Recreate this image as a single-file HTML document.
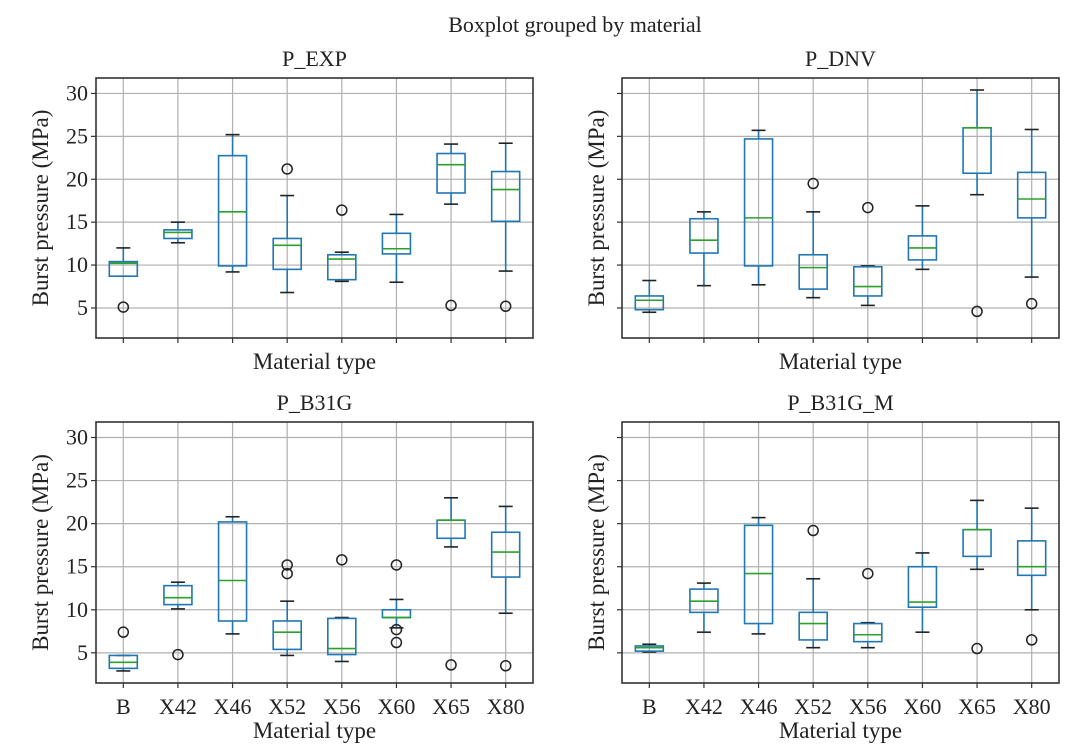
<!DOCTYPE html>
<html><head><meta charset="utf-8">
<style>
html,body{margin:0;padding:0;background:#fff;}
svg{display:block;font-family:"Liberation Serif",serif;}
</style></head>
<body>
<svg id="chart" width="1077" height="750" viewBox="0 0 1077 750" xmlns="http://www.w3.org/2000/svg">
<text x="575" y="32" font-size="22" text-anchor="middle" fill="#222">Boxplot grouped by material</text>
</svg>
<script>
const categories = ["B","X42","X46","X52","X56","X60","X65","X80"];
const panelTitles = ["P_EXP","P_DNV","P_B31G","P_B31G_M"];
const yTicks = [5,10,15,20,25,30];
// each entry: [whiskerLo, q1, median, q3, whiskerHi]
const statsEXP = [[8.7,8.7,10.2,10.4,12.0],[12.6,13.1,13.8,14.1,15.0],[9.2,9.9,16.2,22.75,25.2],[6.8,9.5,12.3,13.1,18.1],[8.1,8.3,10.7,11.2,11.5],[8.0,11.3,11.9,13.7,15.9],[17.1,18.4,21.7,23.0,24.1],[9.3,15.1,18.8,20.9,24.2]];
const outliersEXP = [[5.1],[],[],[21.2],[16.4],[],[5.3],[5.2]];
const statsDNV = [[4.5,4.8,5.9,6.4,8.2],[7.6,11.4,12.9,15.4,16.2],[7.7,9.9,15.5,24.7,25.7],[6.2,7.2,9.7,11.2,16.2],[5.3,6.4,7.5,9.8,9.9],[9.5,10.6,12.0,13.4,16.9],[18.2,20.7,26.0,26.0,30.4],[8.6,15.5,17.7,20.8,25.8]];
const outliersDNV = [[],[],[],[19.5],[16.7],[],[4.6],[5.5]];
const statsB31G = [[2.9,3.2,3.9,4.7,4.7],[10.1,10.6,11.4,12.8,13.2],[7.2,8.7,13.4,20.2,20.8],[4.7,5.4,7.4,8.7,11.0],[4.0,4.8,5.5,9.0,9.1],[7.9,9.1,9.1,10.0,11.2],[17.3,18.3,20.4,20.4,23.0],[9.6,13.8,16.7,19.0,22.0]];
const outliersB31G = [[7.4],[4.8],[],[15.2,14.2],[15.8],[15.2,7.7,6.2],[3.6],[3.5]];
const statsB31GM = [[5.1,5.2,5.6,5.8,6.0],[7.4,9.7,11.0,12.4,13.1],[7.2,8.4,14.2,19.8,20.7],[5.6,6.5,8.4,9.7,13.6],[5.6,6.3,7.1,8.4,8.5],[7.4,10.3,10.9,15.0,16.6],[14.7,16.2,19.3,19.3,22.7],[10.0,14.0,15.0,18.0,21.8]];
const outliersB31GM = [[],[],[],[19.2],[14.2],[],[5.5],[6.5]];

const NS="http://www.w3.org/2000/svg";
const svg=document.getElementById('chart');
function mk(tag,attrs,parent){const e=document.createElementNS(NS,tag);for(const k in attrs)e.setAttribute(k,attrs[k]);(parent||svg).appendChild(e);return e;}

const panels=[
 {x0:96,x1:533,y0:78,y1:338,stats:statsEXP,out:outliersEXP,ylab:true,xlab:false,ylx:40},
 {x0:622,x1:1059,y0:78,y1:338,stats:statsDNV,out:outliersDNV,ylab:false,xlab:false,ylx:596},
 {x0:96,x1:533,y0:422,y1:683,stats:statsB31G,out:outliersB31G,ylab:true,xlab:true,ylx:40},
 {x0:622,x1:1059,y0:422,y1:683,stats:statsB31GM,out:outliersB31GM,ylab:false,xlab:true,ylx:596}
];
panels.forEach((p,pi)=>{
  const g=mk('g',{});
  
  
  const yMin=1.5, yMax=31.8;
  const yS=v=>p.y1-(v-yMin)/(yMax-yMin)*(p.y1-p.y0);
  const step=(p.x1-p.x0)/categories.length;
  const xS=i=>p.x0+step*(i+0.5);
  yTicks.forEach(t=>{
    const l=mk('line',{x1:p.x0,x2:p.x1,y1:yS(t),y2:yS(t),stroke:'#b0b0b0','stroke-width':1.2},g);
    
    
    const tk=mk('line',{x1:p.x0-5,x2:p.x0,y1:yS(t),y2:yS(t),stroke:'#333','stroke-width':1.2},g);
    
    
    if(p.ylab){
      const tx=mk('text',{x:p.x0-8,y:yS(t)+7,'font-size':22,'text-anchor':'end',fill:'#222'},g);
      tx.textContent=t;
      
      
    }
  });
  categories.forEach((c,i)=>{
    const l=mk('line',{x1:xS(i),x2:xS(i),y1:p.y0,y2:p.y1,stroke:'#b0b0b0','stroke-width':1.2},g);
    
    
    const tk=mk('line',{x1:xS(i),x2:xS(i),y1:p.y1,y2:p.y1+5,stroke:'#333','stroke-width':1.2},g);
    
    
    if(p.xlab){
      const tx=mk('text',{x:xS(i),y:p.y1+31,'font-size':22,'text-anchor':'middle',fill:'#222'},g);
      tx.textContent=c;
      
      
    }
  });
  p.stats.forEach((s,i)=>{
    const cx=xS(i), bw=14, cw=7;
    const bg=mk('g',{},g);
    
    
    const blue='#1f77b4';
    mk('line',{x1:cx,x2:cx,y1:yS(s[0]),y2:yS(s[1]),stroke:blue,'stroke-width':1.6},bg);
    mk('line',{x1:cx,x2:cx,y1:yS(s[3]),y2:yS(s[4]),stroke:blue,'stroke-width':1.6},bg);
    mk('line',{x1:cx-cw,x2:cx+cw,y1:yS(s[0]),y2:yS(s[0]),stroke:'#222','stroke-width':1.6},bg);
    mk('line',{x1:cx-cw,x2:cx+cw,y1:yS(s[4]),y2:yS(s[4]),stroke:'#222','stroke-width':1.6},bg);
    mk('rect',{x:cx-bw,y:yS(s[3]),width:2*bw,height:Math.max(0.5,yS(s[1])-yS(s[3])),fill:'none',stroke:blue,'stroke-width':1.6},bg);
    mk('line',{x1:cx-bw,x2:cx+bw,y1:yS(s[2]),y2:yS(s[2]),stroke:'#2ca02c','stroke-width':1.6},bg);
    p.out[i].forEach(v=>{
      const o=mk('circle',{cx:cx,cy:yS(v),r:5,fill:'none',stroke:'#222','stroke-width':1.5},bg);
      
      
    });
  });
  const fr=mk('rect',{x:p.x0,y:p.y0,width:p.x1-p.x0,height:p.y1-p.y0,fill:'none',stroke:'#333','stroke-width':1.6},g);
  
  
  const tt=mk('text',{x:(p.x0+p.x1)/2,y:p.y0-12,'font-size':22,'text-anchor':'middle',fill:'#222'},g);
  tt.textContent=panelTitles[pi];
  
  
  const xl=mk('text',{x:(p.x0+p.x1)/2,y:p.xlab?p.y1+55:p.y1+31,'font-size':23,'text-anchor':'middle',fill:'#222'},g);
  xl.textContent='Material type';
  
  
  const cy=(p.y0+p.y1)/2;
  const yl=mk('text',{x:p.ylx,y:cy,'font-size':23,'text-anchor':'middle',fill:'#222',transform:'rotate(-90 '+(p.ylx)+' '+cy+') translate(0 8)'},g);
  yl.textContent='Burst pressure (MPa)';
  
  
});
</script>
</body></html>
